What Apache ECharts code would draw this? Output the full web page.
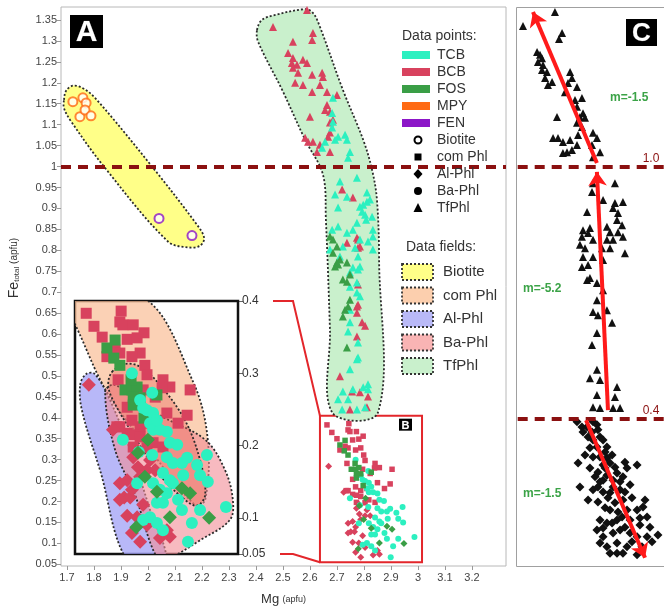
<!DOCTYPE html>
<html><head><meta charset="utf-8">
<script src="https://cdn.jsdelivr.net/npm/echarts@6/dist/echarts.min.js"></script>
<style>html,body{margin:0;padding:0;background:#fff}#c{width:664px;height:611px}</style>
</head><body><div id="c"></div>
<script>
// ---------- tick labels ----------
const xTicks = [1.7,1.8,1.9,2.0,2.1,2.2,2.3,2.4,2.5,2.6,2.7,2.8,2.9,3.0,3.1,3.2];
const yTicks = [0.05,0.1,0.15,0.2,0.25,0.3,0.35,0.4,0.45,0.5,0.55,0.6,0.65,0.7,0.75,0.8,0.85,0.9,0.95,1.0,1.05,1.1,1.15,1.2,1.25,1.3,1.35];
const insetTicks = [0.05,0.1,0.2,0.3,0.4];
const insetX = [2.637, 3.015];
const insetY = [0.05, 0.40];
const boxB = [2.637, 0.055, 3.015, 0.405];

// ---------- Biotite points (Mg, Fe) ----------
const mpyBiotite = [[1.722,1.155],[1.759,1.164],[1.771,1.152],[1.748,1.119],[1.767,1.135],[1.789,1.121]];
const fenBiotite = [[2.041,0.876],[2.163,0.835]];

// ---------- TfPhl points ----------
const bcbTfPhl = [[2.463,1.333],[2.589,1.374],[2.537,1.298],[2.611,1.319],[2.608,1.302],[2.519,1.271],[2.537,1.259],[2.533,1.247],[2.552,1.243],[2.574,1.255],[2.589,1.247],[2.537,1.236],[2.556,1.224],[2.608,1.219],[2.645,1.224],[2.648,1.214],[2.637,1.195],[2.545,1.200],[2.574,1.195],[2.608,1.178],[2.663,1.178],[2.700,1.171],[2.663,1.147],[2.656,1.135],[2.674,1.131],[2.685,1.112],[2.674,1.105],[2.600,1.119],[2.674,1.081],[2.667,1.071],[2.582,1.069],[2.593,1.059],[2.611,1.059],[2.637,1.052],[2.626,1.035],[2.674,1.035],[2.719,0.945],[2.759,0.926],[2.778,0.826],[2.778,0.806],[2.737,0.818],[2.785,0.809],[2.774,0.830],[2.778,0.718],[2.774,0.666],[2.774,0.651],[2.793,0.628],[2.804,0.620],[2.774,0.594],[2.711,0.499],[2.756,0.463],[2.785,0.461],[2.748,0.420],[2.811,0.425],[2.778,0.670],[2.815,0.451]];
const tcbTfPhl = [[2.685,1.164],[2.682,1.128],[2.685,1.107],[2.682,1.093],[2.730,1.076],[2.737,1.064],[2.656,1.059],[2.645,1.045],[2.748,1.035],[2.741,1.021],[2.693,1.064],[2.704,1.071],[2.774,0.973],[2.711,0.964],[2.693,0.933],[2.737,0.928],[2.797,0.909],[2.811,0.916],[2.793,0.892],[2.804,0.885],[2.704,0.902],[2.811,0.938],[2.822,0.921],[2.830,0.880],[2.808,0.873],[2.833,0.849],[2.774,0.866],[2.759,0.849],[2.737,0.842],[2.785,0.826],[2.815,0.821],[2.833,0.802],[2.682,0.849],[2.722,0.809],[2.767,0.806],[2.711,0.785],[2.778,0.785],[2.785,0.761],[2.748,0.747],[2.774,0.699],[2.674,0.802],[2.778,0.754],[2.759,0.759],[2.774,0.723],[2.748,0.713],[2.785,0.690],[2.748,0.658],[2.748,0.628],[2.741,0.606],[2.778,0.580],[2.778,0.544],[2.774,0.540],[2.748,0.516],[2.722,0.463],[2.759,0.468],[2.797,0.473],[2.815,0.480],[2.741,0.444],[2.704,0.444],[2.719,0.420],[2.774,0.420],[2.804,0.425],[2.815,0.468],[2.785,0.904],[2.704,0.857],[2.833,0.833]];
const fosTfPhl = [[2.685,0.826],[2.700,0.809],[2.685,0.794],[2.700,0.771],[2.693,0.761],[2.711,0.778],[2.737,0.771],[2.722,0.730],[2.737,0.725],[2.748,0.742],[2.674,0.833],[2.748,0.682],[2.730,0.658],[2.722,0.642],[2.741,0.666],[2.737,0.568],[2.704,0.766]];

// ---------- inset B points (Mg, Fe) ----------
const bcbComPhl = [[2.663,0.383],[2.681,0.365],[2.700,0.350],[2.744,0.386],[2.741,0.371],[2.748,0.367],[2.772,0.367],[2.758,0.347],[2.781,0.349],[2.797,0.356],[2.788,0.328],[2.711,0.323],[2.730,0.332],[2.741,0.328],[2.769,0.323],[2.799,0.311],[2.804,0.298],[2.737,0.291],[2.841,0.291],[2.857,0.281],[2.839,0.280],[2.823,0.267],[2.795,0.277],[2.904,0.277],[2.897,0.242],[2.876,0.231],[2.850,0.245],[2.811,0.231],[2.788,0.226],[2.769,0.235],[2.758,0.253],[2.734,0.226],[2.758,0.217],[2.772,0.215],[2.788,0.212],[2.818,0.204],[2.841,0.198],[2.772,0.198],[2.804,0.197],[2.741,0.226]];
const bcbAlPhl = [[2.669,0.284],[2.741,0.148],[2.758,0.152],[2.751,0.128],[2.765,0.128],[2.758,0.103],[2.781,0.101],[2.769,0.079],[2.788,0.067],[2.795,0.118],[2.783,0.170],[2.804,0.166],[2.823,0.166],[2.834,0.072],[2.857,0.074],[2.850,0.083],[2.725,0.222],[2.781,0.194],[2.811,0.180],[2.772,0.184],[2.788,0.157],[2.769,0.139],[2.741,0.125],[2.804,0.090]];
const fosComPhl = [[2.711,0.335],[2.730,0.346],[2.727,0.321],[2.741,0.311],[2.753,0.277],[2.769,0.277],[2.781,0.281],[2.788,0.266],[2.772,0.267],[2.772,0.256],[2.827,0.270],[2.797,0.238],[2.767,0.291]];
const fosAlPhl = [[2.783,0.190],[2.799,0.157],[2.827,0.136],[2.857,0.101],[2.779,0.087],[2.885,0.141],[2.904,0.134],[2.948,0.100],[2.806,0.208]];
const tcbBaPhl = [[2.769,0.300],[2.804,0.249],[2.818,0.245],[2.811,0.231],[2.818,0.222],[2.834,0.222],[2.748,0.208],[2.785,0.191],[2.816,0.187],[2.857,0.204],[2.874,0.201],[2.850,0.184],[2.864,0.176],[2.885,0.176],[2.897,0.183],[2.920,0.173],[2.943,0.187],[2.927,0.159],[2.945,0.150],[2.841,0.162],[2.857,0.152],[2.888,0.159],[2.781,0.148],[2.827,0.121],[2.841,0.121],[2.850,0.134],[2.876,0.125],[2.885,0.111],[2.908,0.093],[2.927,0.111],[2.811,0.101],[2.827,0.093],[2.841,0.083],[2.899,0.067],[2.987,0.115],[2.795,0.252],[2.788,0.263],[2.816,0.273],[2.827,0.235],[2.850,0.219],[2.864,0.148],[2.818,0.148],[2.834,0.139],[2.795,0.097]];

// ---------- data fields (outlines, Mg/Fe units) ----------
const fieldBiotite = [[1.689,1.159],[1.697,1.181],[1.722,1.193],[1.756,1.188],[1.804,1.164],[2.015,1.000],[2.178,0.864],[2.208,0.830],[2.193,0.811],[2.148,0.807],[2.074,0.821],[1.837,1.000],[1.711,1.112],[1.689,1.140]];
const fieldTfPhl = [[2.404,1.326],[2.422,1.350],[2.471,1.362],[2.582,1.376],[2.608,1.369],[2.630,1.345],[2.722,1.183],[2.797,1.064],[2.830,0.992],[2.848,0.921],[2.856,0.778],[2.852,0.413],[2.682,0.413],[2.674,0.611],[2.659,0.873],[2.648,0.981],[2.582,1.064],[2.497,1.183],[2.408,1.298]];
const fieldComPhl = [[2.600,0.400],[2.795,0.405],[2.911,0.288],[2.945,0.208],[2.939,0.125],[2.915,0.118],[2.811,0.194],[2.711,0.274],[2.630,0.376]];
const fieldAlPhl = [[2.649,0.284],[2.663,0.299],[2.683,0.299],[2.718,0.263],[2.765,0.194],[2.811,0.111],[2.846,0.040],[2.760,0.040],[2.695,0.166],[2.653,0.249]];
const fieldBaPhl = [[2.707,0.274],[2.730,0.284],[2.834,0.242],[2.939,0.208],[2.985,0.166],[3.003,0.125],[2.996,0.097],[2.927,0.069],[2.857,0.045],[2.827,0.045],[2.776,0.132],[2.730,0.194]];
const fieldBaPhl2 = [[2.723,0.302],[2.753,0.313],[2.788,0.309],[2.834,0.284],[2.892,0.235],[2.927,0.180],[2.939,0.132],[2.920,0.117],[2.892,0.125],[2.834,0.159],[2.765,0.222],[2.725,0.263],[2.714,0.284]];

// ---------- panel C (relative position, Fe) ----------
const cTfPhlUpper = [[0.229,1.369],[0.041,1.336],[0.271,1.319],[0.253,1.305],[0.124,1.274],[0.141,1.267],[0.153,1.259],[0.129,1.250],[0.159,1.243],[0.153,1.231],[0.182,1.226],[0.171,1.212],[0.212,1.202],[0.188,1.195],[0.318,1.226],[0.329,1.212],[0.306,1.200],[0.359,1.190],[0.288,1.178],[0.388,1.164],[0.347,1.159],[0.359,1.143],[0.394,1.128],[0.376,1.119],[0.406,1.117],[0.241,1.119],[0.359,1.105],[0.388,1.095],[0.218,1.069],[0.247,1.069],[0.276,1.059],[0.318,1.064],[0.365,1.076],[0.359,1.052],[0.453,1.081],[0.476,1.069],[0.447,1.052],[0.300,1.035],[0.276,1.033],[0.329,1.040],[0.494,1.035],[0.453,1.023]];
const cTfPhlMiddle = [[0.453,0.961],[0.447,0.940],[0.582,0.961],[0.512,0.921],[0.582,0.914],[0.629,0.916],[0.571,0.902],[0.600,0.890],[0.418,0.892],[0.394,0.849],[0.435,0.854],[0.388,0.833],[0.424,0.842],[0.535,0.857],[0.553,0.844],[0.594,0.873],[0.624,0.861],[0.600,0.844],[0.629,0.833],[0.376,0.814],[0.406,0.806],[0.453,0.826],[0.535,0.826],[0.506,0.806],[0.553,0.806],[0.394,0.785],[0.453,0.785],[0.424,0.766],[0.388,0.761],[0.512,0.778],[0.641,0.794],[0.571,0.826],[0.435,0.735],[0.418,0.730],[0.476,0.723],[0.512,0.706],[0.476,0.682],[0.453,0.654],[0.482,0.646],[0.535,0.658],[0.565,0.628],[0.476,0.604],[0.447,0.575],[0.476,0.516],[0.435,0.496],[0.494,0.492],[0.476,0.456],[0.453,0.427],[0.494,0.425],[0.594,0.475],[0.582,0.451],[0.571,0.425],[0.612,0.425]];
const cPhlLower = [[0.359,0.392],[0.388,0.380],[0.418,0.380],[0.453,0.392],[0.476,0.385],[0.482,0.373],[0.424,0.356],[0.453,0.349],[0.494,0.356],[0.512,0.349],[0.476,0.332],[0.535,0.332],[0.435,0.330],[0.365,0.294],[0.453,0.308],[0.494,0.308],[0.535,0.306],[0.553,0.294],[0.512,0.289],[0.582,0.284],[0.641,0.296],[0.653,0.282],[0.482,0.272],[0.535,0.265],[0.594,0.270],[0.629,0.261],[0.712,0.289],[0.453,0.230],[0.482,0.237],[0.512,0.225],[0.571,0.237],[0.612,0.230],[0.671,0.242],[0.541,0.211],[0.582,0.199],[0.629,0.206],[0.682,0.211],[0.553,0.182],[0.600,0.177],[0.653,0.182],[0.712,0.182],[0.747,0.189],[0.494,0.158],[0.535,0.151],[0.594,0.158],[0.671,0.158],[0.729,0.163],[0.771,0.165],[0.476,0.134],[0.512,0.118],[0.571,0.127],[0.612,0.134],[0.671,0.127],[0.712,0.118],[0.771,0.118],[0.835,0.122],[0.535,0.094],[0.594,0.103],[0.653,0.094],[0.553,0.079],[0.712,0.075],[0.629,0.079],[0.800,0.106],[0.494,0.103],[0.553,0.223],[0.465,0.261],[0.494,0.249],
  [0.394,0.368],[0.447,0.368],[0.524,0.320],[0.565,0.313],[0.406,0.313],[0.435,0.282],[0.524,0.282],[0.571,0.253],[0.612,0.249],[0.512,0.253],[0.641,0.225],[0.482,0.201],[0.524,0.187],[0.624,0.165],[0.565,0.151],[0.641,0.141],[0.729,0.146],[0.682,0.106],[0.741,0.094],[0.788,0.141],[0.594,0.079],[0.512,0.139],[0.424,0.206],[0.376,0.237],[0.759,0.206]];
const cTrendArrows = [[[0.476,1.009],[0.100,1.369]],[[0.541,0.420],[0.476,0.988]],[[0.412,0.396],[0.759,0.068]]];
const cSlopes = [['m=-1.5',1.165],['m=-5.2',0.71],['m=-1.5',0.22]];
const refLevels = [1.0, 0.4];

// ---------- colours ----------
const COL = {TCB:'#2CF0C0', BCB:'#D8425E', FOS:'#3A9E46', MPY:'#FF6A13', FEN:'#8C16C8'};
const FIELD = {Biotite:'#FFFF88', comPhl:'#FCCFAE', AlPhl:'#B9B9F7', BaPhl:'#F9B4B4', TfPhl:'#C9F0CC'};
const FONT = 'Arial, "Liberation Sans", sans-serif';

const chart = echarts.init(document.getElementById('c'), null, {renderer:'canvas'});

function fieldSeries(arr, fill, ax, z) {
  return {type:'custom', xAxisIndex:ax, yAxisIndex:ax, clip:true, silent:true, z:z,
    data:[arr[0]],
    renderItem:(p, api) => ({type:'polygon',
      shape:{points: arr.map(q => api.coord(q)), smooth:0.35},
      style:{fill:fill, stroke:'#2b2b2b', lineWidth:1.8, lineDash:[2,2]}})};
}
function sc(data, ax, symbol, size, color, z, extra) {
  return Object.assign({type:'scatter', xAxisIndex:ax, yAxisIndex:ax, data:data, symbol:symbol,
    symbolSize:size, itemStyle:{color:color, opacity:1}, z:z||3, silent:true}, extra||{});
}
const fmt = v => String(+v.toFixed(2));

const option = {
  animation:false,
  backgroundColor:'#fff',
  grid:[
    {left:61, top:7, width:445, height:560, show:true, borderColor:'#b8b8b8', borderWidth:1},
    {left:75, top:301, width:163, height:253, show:true, borderColor:'#111', borderWidth:2.5, backgroundColor:'#fff', z:2},
    {left:516, top:7, width:148, height:560, show:false}
  ],
  xAxis:[
    {gridIndex:0, type:'value', min:1.678, max:3.326, splitLine:{show:false}, axisLine:{show:false},
     axisTick:{show:true, customValues:xTicks, length:4, lineStyle:{color:'#999'}},
     axisLabel:{customValues:xTicks, formatter:fmt, fontSize:11, color:'#444', margin:6, fontFamily:FONT},
     name:'{a|Mg} {b|(apfu)}', nameLocation:'middle', nameGap:27,
     nameTextStyle:{rich:{a:{fontSize:13, color:'#333', fontFamily:FONT}, b:{fontSize:9, color:'#333', fontFamily:FONT}}}},
    {gridIndex:1, type:'value', min:insetX[0], max:insetX[1], show:false},
    {gridIndex:2, type:'value', min:0, max:0.8706, show:false}
  ],
  yAxis:[
    {gridIndex:0, type:'value', min:0.046, max:1.381, splitLine:{show:false}, axisLine:{show:false},
     axisTick:{show:true, customValues:yTicks, length:4, lineStyle:{color:'#999'}},
     axisLabel:{customValues:yTicks, formatter:fmt, fontSize:11, color:'#444', margin:4, fontFamily:FONT}},
    {gridIndex:1, type:'value', min:insetY[0], max:insetY[1], position:'right', splitLine:{show:false}, axisLine:{show:false},
     axisTick:{show:true, customValues:insetTicks, length:5, lineStyle:{color:'#666'}},
     axisLabel:{customValues:insetTicks, formatter:fmt, fontSize:12, color:'#333', margin:4, fontFamily:FONT}},
    {gridIndex:2, type:'value', min:0.046, max:1.381, show:false}
  ],
  series:[
    fieldSeries(fieldBiotite, FIELD.Biotite, 0, 1),
    fieldSeries(fieldTfPhl, FIELD.TfPhl, 0, 1),
    sc(mpyBiotite, 0, 'emptyCircle', 9, COL.MPY, 3, {itemStyle:{color:COL.MPY, borderWidth:2.3}}),
    sc(fenBiotite, 0, 'emptyCircle', 9, COL.FEN, 3, {itemStyle:{color:COL.FEN, borderWidth:2.3}}),
    sc(bcbTfPhl, 0, 'triangle', 8, COL.BCB),
    sc(tcbTfPhl, 0, 'triangle', 8, COL.TCB),
    sc(fosTfPhl, 0, 'triangle', 8, COL.FOS),
    // small red box in A
    sc(bcbComPhl, 0, 'rect', 5.5, COL.BCB, 3, {markArea:{silent:true, itemStyle:{color:'rgba(0,0,0,0)', borderColor:'#E3262B', borderWidth:2},
        data:[[{coord:[boxB[0], boxB[1]]},{coord:[boxB[2], boxB[3]]}]]}}),
    sc(bcbAlPhl, 0, 'diamond', 7, COL.BCB),
    sc(tcbBaPhl, 0, 'circle', 6, COL.TCB),
    sc(fosComPhl, 0, 'rect', 5.5, COL.FOS),
    sc(fosAlPhl, 0, 'diamond', 7, COL.FOS),
    // inset B
    fieldSeries(fieldComPhl, 'rgba(250,190,150,0.7)', 1, 3),
    fieldSeries(fieldAlPhl, 'rgba(160,160,245,0.75)', 1, 3),
    fieldSeries(fieldBaPhl, 'rgba(242,140,150,0.6)', 1, 3),
    fieldSeries(fieldBaPhl2, 'rgba(235,105,95,0.4)', 1, 3),
    sc(bcbComPhl, 1, 'rect', 11, COL.BCB, 4),
    sc(bcbAlPhl, 1, 'diamond', 14, COL.BCB, 4),
    sc(fosComPhl, 1, 'rect', 11, COL.FOS, 4),
    sc(tcbBaPhl, 1, 'circle', 12, COL.TCB, 4),
    sc(fosAlPhl, 1, 'diamond', 14, COL.FOS, 4),
    // reference line in A
    {type:'line', xAxisIndex:0, yAxisIndex:0, data:[], z:6, silent:true,
     markLine:{silent:true, symbol:['none','none'], label:{show:false},
       lineStyle:{color:'#8B1010', width:4, type:[10,7]},
       data:[[{coord:[1.678, refLevels[0]]},{coord:[3.326, refLevels[0]]}]]}},
    // panel C
    sc(cTfPhlUpper, 2, 'triangle', 8, '#111'),
    sc(cTfPhlMiddle, 2, 'triangle', 8, '#111'),
    sc(cPhlLower, 2, 'diamond', 9, '#111'),
    {type:'line', xAxisIndex:2, yAxisIndex:2, data:[], z:6, silent:true,
     markLine:{silent:true, symbol:['none','none'], label:{show:false},
       lineStyle:{color:'#8B1010', width:4, type:[10,7]},
       data: refLevels.map(v => [{coord:[0.01, v]},{coord:[0.8706, v]}])}},
    {type:'line', xAxisIndex:2, yAxisIndex:2, data:[], z:7, silent:true,
     markLine:{silent:true, symbol:['none','arrow'], symbolSize:14, label:{show:false},
       lineStyle:{color:'#FF1A1A', width:4, type:'solid'},
       data: cTrendArrows.map(a => [{coord:a[0]},{coord:a[1]}])}}
  ]
};
chart.setOption(option);

// ---------- annotations ----------
const tl = chart.convertToPixel({xAxisIndex:0, yAxisIndex:0}, [boxB[0], boxB[3]]);
const bl = chart.convertToPixel({xAxisIndex:0, yAxisIndex:0}, [boxB[0], boxB[1]]);
const br = chart.convertToPixel({xAxisIndex:0, yAxisIndex:0}, [boxB[2], boxB[3]]);
const it = chart.convertToPixel({xAxisIndex:1, yAxisIndex:1}, [insetX[1], insetY[1]]);
const ib = chart.convertToPixel({xAxisIndex:1, yAxisIndex:1}, [insetX[1], insetY[0]]);

function panelLabel(x, y, w, h, t, fs) {
  return {type:'group', x:x, y:y, z:100, children:[
    {type:'rect', shape:{x:0, y:0, width:w, height:h}, style:{fill:'#000'}},
    {type:'text', x:w/2, y:h/2+1, style:{text:t, fill:'#fff', font:'bold '+fs+'px '+FONT, align:'center', verticalAlign:'middle', stroke:'#555', lineWidth:0.5}}
  ]};
}
const g = [];
// panel C frame (open on the right, cut by the page edge)
g.push({type:'polyline', z:1, shape:{points:[[664,7.5],[516.5,7.5],[516.5,566.5],[664,566.5]]}, style:{stroke:'#a0a0a0', lineWidth:1, fill:null}});
g.push(panelLabel(70, 15, 33, 33, 'A', 30));
g.push(panelLabel(197, 308, 36, 38, 'B', 32));
g.push(panelLabel(br[0]-23, br[1]+3, 13, 12, 'B', 11));
g.push(panelLabel(626, 19, 31, 27, 'C', 26));
// connectors
g.push({type:'polyline', z:50, shape:{points:[[it[0]+35, it[1]],[it[0]+55, it[1]],[tl[0], tl[1]]]}, style:{stroke:'#E3262B', lineWidth:2, fill:null}});
g.push({type:'polyline', z:50, shape:{points:[[ib[0]+42, ib[1]],[ib[0]+55, ib[1]],[bl[0], bl[1]]]}, style:{stroke:'#E3262B', lineWidth:2, fill:null}});
// y axis title
g.push({type:'text', x:14, y:268, rotation:Math.PI/2, z:50, style:{
  text:'{a|Fe}{s|total}{b| (apfu)}', align:'center', verticalAlign:'middle',
  rich:{a:{fontSize:14, fill:'#333', fontFamily:FONT}, s:{fontSize:8, fill:'#333', fontFamily:FONT, verticalAlign:'bottom', padding:[6,0,0,0]}, b:{fontSize:10, fill:'#333', fontFamily:FONT}}}});
// legend: data points
g.push({type:'text', x:402, y:36, z:50, style:{text:'Data points:', font:'14px '+FONT, fill:'#333', verticalAlign:'middle'}});
const groupsL = [['TCB',COL.TCB],['BCB',COL.BCB],['FOS',COL.FOS],['MPY',COL.MPY],['FEN',COL.FEN]];
groupsL.forEach((d,i) => {
  const y = 55 + i*17;
  g.push({type:'rect', z:50, shape:{x:402, y:y-4, width:28, height:8}, style:{fill:d[1]}});
  g.push({type:'text', z:50, x:437, y:y, style:{text:d[0], font:'14px '+FONT, fill:'#333', verticalAlign:'middle'}});
});
const symL = ['Biotite','com Phl','Al-Phl','Ba-Phl','TfPhl'];
symL.forEach((t,i) => {
  const y = 140 + i*17, x = 418;
  let s;
  if (i===0) s = {type:'circle', shape:{cx:x, cy:y, r:3.5}, style:{fill:'#fff', stroke:'#000', lineWidth:2}};
  else if (i===1) s = {type:'rect', shape:{x:x-3.5, y:y-3.5, width:7, height:7}, style:{fill:'#000'}};
  else if (i===2) s = {type:'polygon', shape:{points:[[x,y-5],[x+4.5,y],[x,y+5],[x-4.5,y]]}, style:{fill:'#000'}};
  else if (i===3) s = {type:'circle', shape:{cx:x, cy:y, r:4}, style:{fill:'#000'}};
  else s = {type:'polygon', shape:{points:[[x,y-5],[x+4.5,y+4],[x-4.5,y+4]]}, style:{fill:'#000'}};
  s.z = 50; g.push(s);
  g.push({type:'text', z:50, x:437, y:y, style:{text:t, font:'14px '+FONT, fill:'#333', verticalAlign:'middle'}});
});
g.push({type:'text', x:406, y:247, z:50, style:{text:'Data fields:', font:'14px '+FONT, fill:'#333', verticalAlign:'middle'}});
const fieldL = [['Biotite',FIELD.Biotite],['com Phl',FIELD.comPhl],['Al-Phl',FIELD.AlPhl],['Ba-Phl',FIELD.BaPhl],['TfPhl',FIELD.TfPhl]];
fieldL.forEach((d,i) => {
  const y = 272 + i*23.5;
  g.push({type:'rect', z:50, shape:{x:402, y:y-8, width:31, height:16}, style:{fill:d[1], stroke:'#333', lineWidth:1.8, lineDash:[2,2]}});
  g.push({type:'text', z:50, x:443, y:y, style:{text:d[0], font:'15px '+FONT, fill:'#333', verticalAlign:'middle'}});
});
// panel C annotations
const slopeX = [0.553, 0.041, 0.041];
cSlopes.forEach((d,i) => {
  const p = chart.convertToPixel({xAxisIndex:2, yAxisIndex:2}, [slopeX[i], d[1]]);
  g.push({type:'text', z:50, x:p[0], y:p[1], style:{text:d[0], font:'bold 12px '+FONT, fill:'#3BA347', verticalAlign:'middle'}});
});
refLevels.forEach(v => {
  const p = chart.convertToPixel({xAxisIndex:2, yAxisIndex:2}, [0.745, v]);
  g.push({type:'text', z:50, x:p[0], y:p[1]-8, style:{text:v.toFixed(1), font:'12px '+FONT, fill:'#8B1010', verticalAlign:'middle'}});
});
chart.setOption({graphic:g});
</script></body></html>
